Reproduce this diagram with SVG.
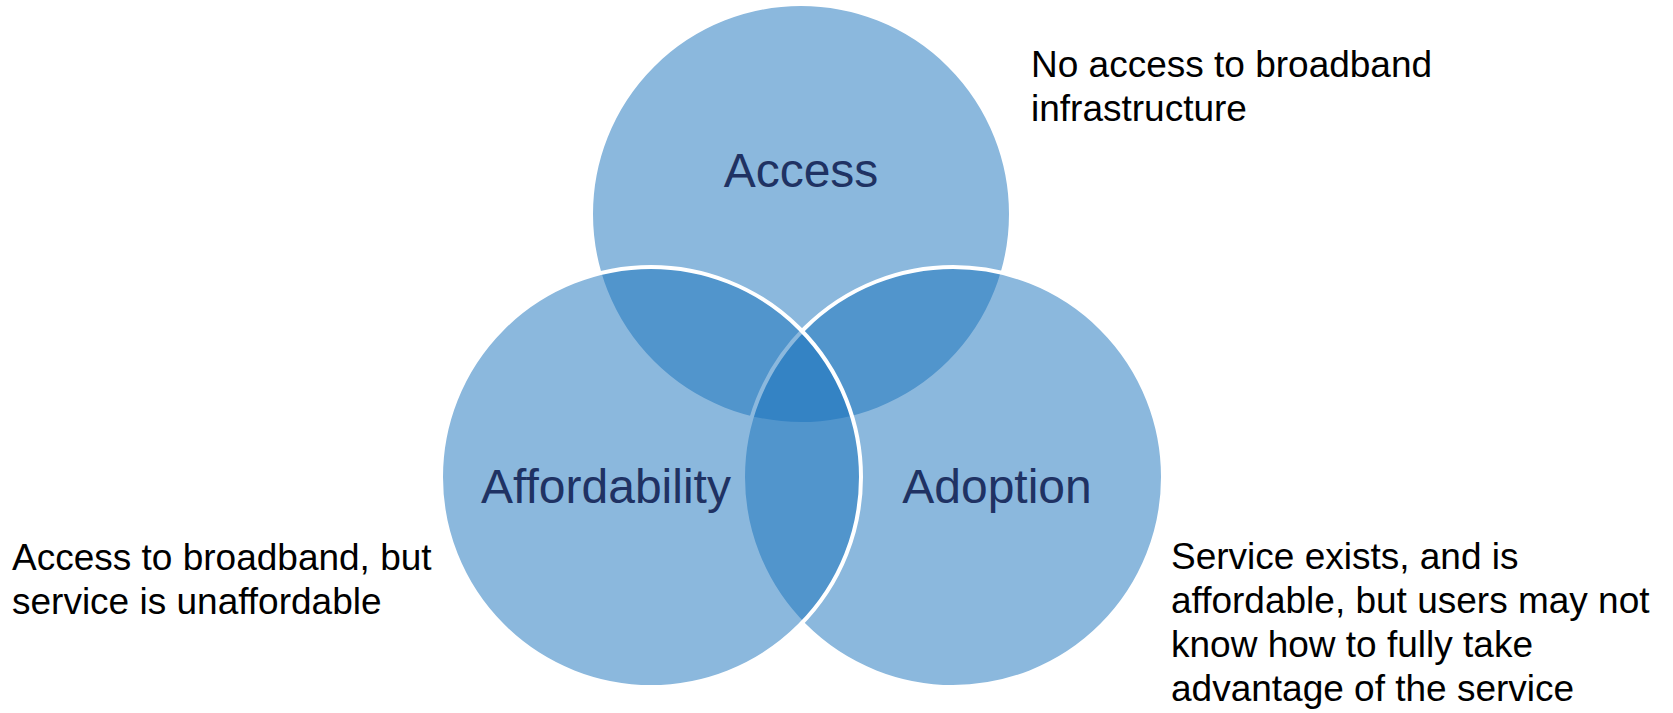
<svg xmlns="http://www.w3.org/2000/svg" width="1673" height="713" viewBox="0 0 1673 713">
  <style>
    .circle { fill: #1771BB; fill-opacity: 0.5; stroke: #FFFFFF; stroke-width: 4; }
    .label { font-family: "Liberation Sans", Arial, sans-serif; font-size: 48px; fill: #1F3263; text-anchor: middle; }
    .desc { font-family: "Liberation Sans", Arial, sans-serif; font-size: 37px; fill: #000000; }
  </style>
  <rect x="0" y="0" width="1673" height="713" fill="#FFFFFF"/>
  <g id="node-access">
    <circle class="circle" cx="801" cy="214" r="210"/>
    <text class="label" x="801" y="187">Access</text>
  </g>
  <g id="node-adoption">
    <circle class="circle" cx="953" cy="477" r="210"/>
    <text class="label" x="997" y="503">Adoption</text>
  </g>
  <g id="node-affordability">
    <circle class="circle" cx="651" cy="477" r="210"/>
    <text class="label" x="606" y="503">Affordability</text>
  </g>
  <g id="connectors"></g>
  <g id="note-access">
    <text class="desc" x="1031" y="77">No access to broadband</text>
    <text class="desc" x="1031" y="121">infrastructure</text>
  </g>
  <g id="note-affordability">
    <text class="desc" x="12" y="570">Access to broadband, but</text>
    <text class="desc" x="12" y="614">service is unaffordable</text>
  </g>
  <g id="note-adoption">
    <text class="desc" x="1171" y="569">Service exists, and is</text>
    <text class="desc" x="1171" y="613">affordable, but users may not</text>
    <text class="desc" x="1171" y="657">know how to fully take</text>
    <text class="desc" x="1171" y="701">advantage of the service</text>
  </g>
</svg>
